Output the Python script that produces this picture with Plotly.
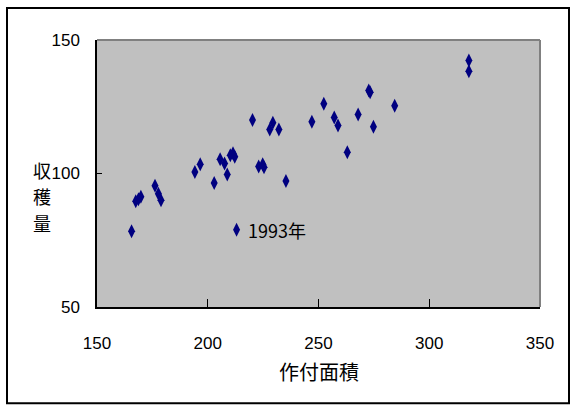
import plotly.graph_objects as go

# 作付面積 (x) and 収穫量 (y)
area = [165.6, 167.5, 168.7, 169.8, 176.2, 177.7, 178.9, 194.2, 196.6, 202.9,
        205.6, 207.6, 208.8, 210.2, 211.4, 212.2, 213.0, 220.2, 223.0, 224.8,
        225.4, 228.0, 229.4, 232.1, 235.3, 247.0, 252.4, 257.1, 258.8, 263.0,
        267.9, 272.7, 273.3, 274.8, 284.4, 317.9, 317.9]
harvest = [78.4, 89.6, 90.4, 91.3, 95.4, 92.4, 90.0, 100.6, 103.5, 96.4,
           105.3, 103.7, 99.6, 106.8, 107.6, 106.3, 78.9, 120.0, 102.6, 103.5,
           102.3, 116.5, 119.0, 116.5, 97.2, 119.4, 126.1, 121.0, 118.0, 108.0,
           122.1, 131.1, 130.4, 117.5, 125.4, 142.3, 138.3]
label_index = 16
label_text = "1993年"
y_title_chars = ["収", "穫", "量"]
x_title = "作付面積"

x_ticks = [150, 200, 250, 300, 350]
y_ticks = [50, 100, 150]

W, H = 575, 412
ml, mr, mt, mb = 97, 35, 40, 104.5
pw, ph = W - ml - mr, H - mt - mb

def px(xp):
    return (xp - ml) / pw

def py(yp):
    return (H - mb - yp) / ph

jp = "Noto Sans CJK JP"
num = "Liberation Sans"

fig = go.Figure()
fig.add_trace(go.Scatter(
    x=area, y=harvest, mode="markers",
    marker=dict(symbol="diamond-tall", size=10, color="#000080",
                line=dict(width=0)),
    hoverinfo="x+y", showlegend=False,
))

annotations = []
for i, ch in enumerate(y_title_chars):
    annotations.append(dict(
        text=ch, xref="paper", yref="paper", x=px(42), y=py(170 + 26.5 * i),
        xanchor="center", yanchor="middle", showarrow=False,
        font=dict(family=jp, size=18, color="black")))
annotations.append(dict(
    text=x_title, xref="paper", yref="paper", x=0.5, y=py(372),
    xanchor="center", yanchor="middle", showarrow=False,
    font=dict(family=jp, size=20, color="black")))
annotations.append(dict(
    text=label_text, x=area[label_index], y=harvest[label_index],
    xanchor="left", yanchor="middle", xshift=9, showarrow=False,
    font=dict(family=jp, size=18, color="black")))

fig.update_layout(
    width=W, height=H,
    margin=dict(l=ml, r=mr, t=mt, b=mb, pad=0),
    paper_bgcolor="white",
    plot_bgcolor="#C0C0C0",
    showlegend=False,
    xaxis=dict(range=[150, 350], tickvals=x_ticks, ticktext=[str(v) for v in x_ticks],
               showgrid=False, zeroline=False, showline=True, linecolor="black",
               linewidth=1.5, ticks="inside", ticklen=8, tickcolor="black",
               ticklabelstandoff=20, tickfont=dict(family=num, size=17, color="black")),
    yaxis=dict(range=[50, 150], tickvals=y_ticks, ticktext=[str(v) for v in y_ticks],
               showgrid=False, zeroline=False, showline=True, linecolor="black",
               linewidth=1.5, ticks="inside", ticklen=5, tickcolor="black",
               ticklabelstandoff=12, tickfont=dict(family=num, size=17, color="black")),
    shapes=[
        dict(type="line", xref="paper", yref="paper", x0=0, x1=1, y0=1, y1=1,
             line=dict(color="#808080", width=2)),
        dict(type="line", xref="paper", yref="paper", x0=1, x1=1, y0=0, y1=1,
             line=dict(color="#808080", width=2)),
        dict(type="rect", xref="paper", yref="paper",
             x0=px(7), x1=px(569), y0=py(404), y1=py(8),
             line=dict(color="black", width=2), fillcolor="rgba(0,0,0,0)"),
    ],
    annotations=annotations,
)

fig.write_html("out.html", config={"displayModeBar": False},
               post_script="document.body.style.margin='0';document.body.style.overflow='hidden';")
